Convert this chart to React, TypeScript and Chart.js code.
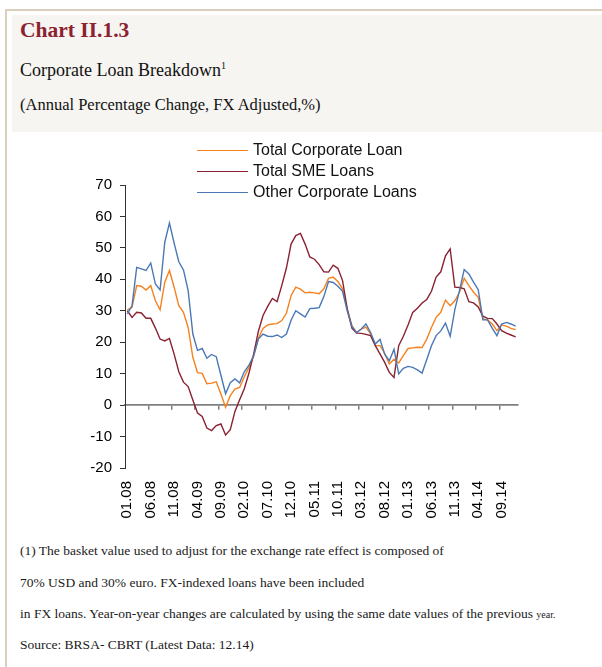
import React, { useEffect, useRef } from 'react';
import { Chart, registerables } from 'chart.js';
Chart.register(...registerables);

const months: string[] = [
  '01.08','02.08','03.08','04.08','05.08','06.08','07.08','08.08','09.08','10.08','11.08','12.08',
  '01.09','02.09','03.09','04.09','05.09','06.09','07.09','08.09','09.09','10.09','11.09','12.09',
  '01.10','02.10','03.10','04.10','05.10','06.10','07.10','08.10','09.10','10.10','11.10','12.10',
  '01.11','02.11','03.11','04.11','05.11','06.11','07.11','08.11','09.11','10.11','11.11','12.11',
  '01.12','02.12','03.12','04.12','05.12','06.12','07.12','08.12','09.12','10.12','11.12','12.12',
  '01.13','02.13','03.13','04.13','05.13','06.13','07.13','08.13','09.13','10.13','11.13','12.13',
  '01.14','02.14','03.14','04.14','05.14','06.14','07.14','08.14','09.14','10.14','11.14','12.14',
];

const totalCorporateLoan: number[] = [
  30.3, 31.1, 38.0, 37.8, 36.6, 38.0, 33.2, 30.3, 39.1, 42.8, 37.5, 31.6,
  29.5, 24.7, 15.2, 10.3, 10.1, 6.8, 7.0, 7.4, 3.5, -0.7, 3.0, 5.1,
  5.6, 9.0, 12.0, 15.6, 21.2, 24.4, 25.5, 25.8, 25.9, 26.9, 29.2, 34.8,
  37.5, 36.9, 35.7, 35.9, 35.7, 35.4, 37.0, 40.3, 40.7, 39.3, 37.0, 30.5,
  25.3, 23.1, 24.2, 24.8, 22.6, 19.0, 18.9, 16.5, 13.1, 14.6, 13.4, 15.7,
  18.0, 18.2, 18.4, 18.3, 21.0, 24.7, 27.9, 29.5, 33.4, 31.6, 33.2, 35.9,
  40.3, 38.0, 35.9, 34.3, 27.4, 27.1, 25.8, 23.7, 25.5, 25.1, 24.4, 24.0,
];

const totalSmeLoans: number[] = [
  30.0, 27.9, 29.5, 29.3, 27.6, 27.6, 24.5, 21.0, 20.4, 21.2, 16.2, 10.6,
  7.3, 5.9, 1.6, -2.5, -3.6, -7.3, -8.1, -6.5, -6.0, -9.5, -7.8, -2.0,
  1.7, 5.2, 10.2, 16.2, 23.4, 28.5, 31.4, 33.9, 32.9, 38.0, 43.6, 51.2,
  53.9, 54.6, 51.2, 47.1, 46.4, 44.7, 42.4, 42.3, 44.5, 43.5, 39.6, 30.6,
  24.5, 22.9, 22.8, 22.5, 22.1, 18.9, 16.3, 13.6, 10.4, 8.8, 18.9, 21.9,
  25.5, 29.5, 30.8, 32.5, 33.6, 36.2, 40.7, 42.4, 47.5, 49.7, 37.5, 37.4,
  37.0, 32.9, 32.5, 31.2, 28.3, 27.6, 27.5, 25.8, 23.7, 22.9, 22.3, 21.7,
];

const otherCorporateLoans: number[] = [
  29.0, 31.6, 43.8, 43.3, 42.8, 45.2, 38.5, 36.6, 51.8, 57.9, 51.5, 45.6,
  43.0, 36.4, 22.6, 17.4, 18.0, 14.9, 16.1, 15.4, 9.5, 3.6, 7.1, 8.3,
  7.1, 10.6, 12.7, 15.7, 21.0, 22.6, 21.9, 21.8, 22.3, 21.5, 22.6, 27.0,
  30.0, 29.0, 28.0, 30.7, 30.8, 31.0, 34.5, 39.3, 39.0, 37.8, 36.2, 30.0,
  25.0, 23.0, 24.2, 25.8, 23.1, 19.4, 20.9, 16.2, 14.1, 17.8, 9.9, 11.7,
  12.3, 12.0, 11.2, 10.2, 14.5, 18.9, 22.1, 23.6, 26.1, 21.9, 30.4, 36.5,
  43.1, 41.7, 39.1, 36.7, 27.1, 27.1, 24.4, 22.1, 25.8, 26.3, 25.8, 25.1,
];

const seriesNames = ['Total Corporate Loan', 'Total SME Loans', 'Other Corporate Loans'];
const seriesColors = ['#F5821F', '#8A2232', '#4A78B6'];
const yTicks = { min: -20, max: 70, step: 10 };
const labelEvery = 5;

const serif = "'Liberation Serif', 'Times New Roman', serif";
const sans = "'Liberation Sans', Arial, sans-serif";

export default function App() {
  const canvasRef = useRef<HTMLCanvasElement | null>(null);

  useEffect(() => {
    const canvas = canvasRef.current;
    if (!canvas) return;
    const seriesData = [totalCorporateLoan, totalSmeLoans, otherCorporateLoans];
    const chart = new Chart(canvas, {
      type: 'line',
      data: {
        labels: months,
        datasets: seriesData.map((d, k) => ({
          label: seriesNames[k],
          data: d,
          borderColor: seriesColors[k],
          backgroundColor: seriesColors[k],
          borderWidth: 1.4,
          pointRadius: 0,
          tension: 0,
          fill: false,
          order: 2 - k,
        })),
      },
      options: {
        responsive: false,
        animation: false,
        events: [],
        layout: { padding: { top: 45, right: 84, left: 0, bottom: 0 } },
        plugins: {
          legend: { display: false },
          tooltip: { enabled: false },
          title: { display: false },
        },
        scales: {
          x: {
            type: 'category',
            position: { y: 0 } as any,
            offset: true,
            grid: {
              offset: true,
              drawOnChartArea: false,
              drawTicks: true,
              tickLength: 4,
              lineWidth: 1.5,
              tickColor: (ctx: any) =>
                ctx.index > 0 && ctx.index % labelEvery === 0 ? '#7f7f7f' : 'rgba(0,0,0,0)',
            },
            border: { display: true, color: '#7f7f7f', width: 1.8 },
            ticks: { display: false, autoSkip: false },
          },
          x2: {
            type: 'category',
            position: 'bottom',
            offset: true,
            grid: { display: false, offset: true },
            border: { display: false },
            ticks: {
              autoSkip: false,
              maxRotation: 90,
              minRotation: 90,
              padding: 5,
              color: '#000',
              font: { family: sans, size: 15 },
              callback: (_v: any, i: number) => (i % labelEvery === 0 ? months[i] : ''),
            },
            afterFit: (scale: any) => {
              scale.height = 72;
            },
          },
          y: {
            min: yTicks.min,
            max: yTicks.max,
            grid: {
              drawOnChartArea: false,
              drawTicks: true,
              tickLength: 5,
              tickColor: '#333',
            },
            border: { display: true, color: '#333', width: 1 },
            ticks: {
              stepSize: yTicks.step,
              padding: 8,
              color: '#000',
              font: { family: sans, size: 15 },
            },
            afterFit: (scale: any) => {
              scale.width = 125;
            },
          },
        },
      } as any,
    });
    return () => chart.destroy();
  }, []);

  const legendTop = [150, 171, 192];
  const noteStyle: React.CSSProperties = {
    position: 'absolute', left: 20, fontFamily: serif, fontSize: 13.5, lineHeight: '16px', color: '#1a1a1a', whiteSpace: 'nowrap',
  };

  return (
    <div style={{ position: 'absolute', left: 0, top: 0, width: 602, height: 667, background: '#fff', overflow: 'hidden' }}>
      <div style={{ position: 'absolute', left: 6, top: 9, width: 596, height: 2, background: '#d8cfbd' }} />
      <div style={{ position: 'absolute', left: 5, top: 9, width: 2, height: 658, background: '#d8cfbd' }} />
      <div style={{ position: 'absolute', left: 12, top: 15, width: 590, height: 117, background: '#f6f5f1' }} />
      <div style={{ position: 'absolute', left: 20, top: 18, fontFamily: serif, fontWeight: 'bold', fontSize: 21.5, lineHeight: '24px', color: '#8C2230', whiteSpace: 'nowrap' }}>
        Chart II.1.3
      </div>
      <div style={{ position: 'absolute', left: 20, top: 60, fontFamily: serif, fontSize: 18, lineHeight: '20px', color: '#111', whiteSpace: 'nowrap' }}>
        Corporate Loan Breakdown<sup style={{ fontSize: 10, verticalAlign: 'super', lineHeight: 0 }}>1</sup>
      </div>
      <div style={{ position: 'absolute', left: 20, top: 95, fontFamily: serif, fontSize: 16.5, lineHeight: '20px', color: '#111', whiteSpace: 'nowrap' }}>
        (Annual Percentage Change, FX Adjusted,%)
      </div>

      <canvas ref={canvasRef} width={602} height={400} style={{ position: 'absolute', left: 0, top: 140, width: 602, height: 400 }} />

      {seriesNames.map((name, k) => (
        <div key={name} style={{ position: 'absolute', left: 197, top: legendTop[k] - 10, height: 20, display: 'flex', alignItems: 'center', whiteSpace: 'nowrap' }}>
          <div style={{ width: 51, height: 0, borderTop: `1.4px solid ${seriesColors[k]}` }} />
          <span style={{ marginLeft: 5, fontFamily: sans, fontSize: 16, color: '#111' }}>{name}</span>
        </div>
      ))}

      <div style={{ ...noteStyle, top: 543 }}>
        (1) The basket value used to adjust for the exchange rate effect is composed of
      </div>
      <div style={{ ...noteStyle, top: 575 }}>
        70% USD and 30% euro. FX-indexed loans have been included
      </div>
      <div style={{ ...noteStyle, top: 606 }}>
        in FX loans. Year-on-year changes are calculated by using the same date values of the previous <span style={{ fontSize: 10 }}>year.</span>
      </div>
      <div style={{ ...noteStyle, top: 637 }}>
        Source: BRSA- CBRT (Latest Data: 12.14)
      </div>
    </div>
  );
}
